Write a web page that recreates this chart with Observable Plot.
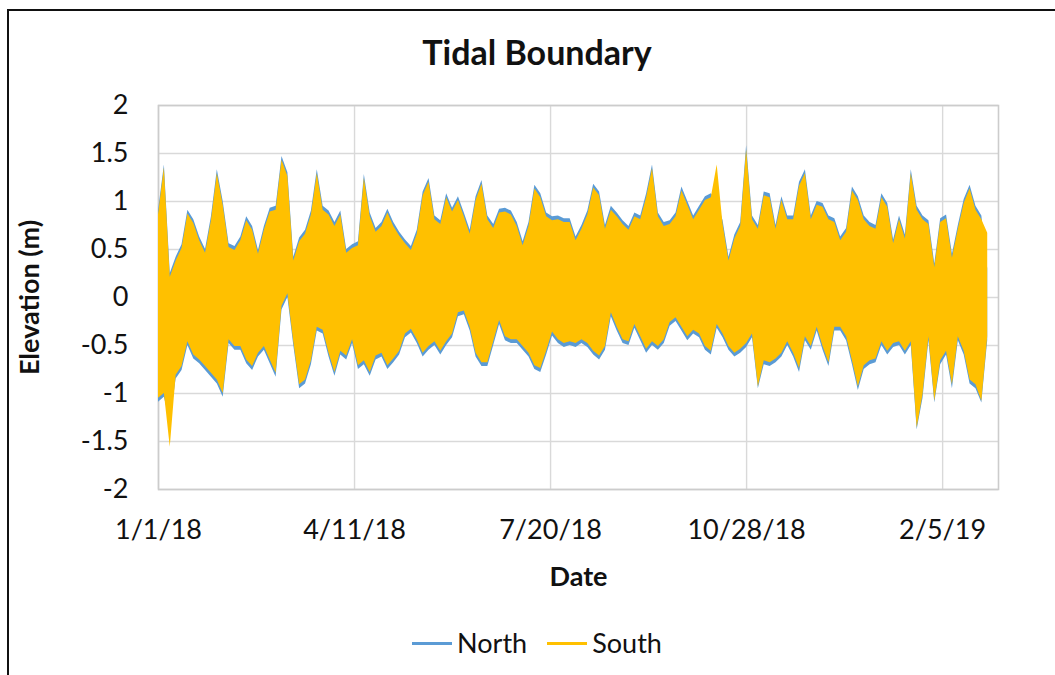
<!DOCTYPE html>
<html>
<head>
<meta charset="utf-8">
<script src="https://cdn.jsdelivr.net/npm/d3@7"></script>
<script src="https://cdn.jsdelivr.net/npm/@observablehq/plot@0.6"></script>
<style>
  body { margin: 0; background: #fff; font-family: Lato, "Open Sans", sans-serif; color: #111; }
  #wrap { position: relative; width: 1055px; height: 675px; overflow: hidden; background: #fff; }
  #frame { position: absolute; left: 7px; top: 9px; width: 1200px; height: 800px;
           border-left: 2.5px solid #111; border-top: 2.5px solid #111; pointer-events: none; }
  #title { position: absolute; top: 31px; left: 0; width: 1074px; text-align: center;
           font-weight: 700; font-size: 34px; line-height: 42px; color: #111; }
  #chart { position: absolute; left: 0; top: 0; }
  #legend { position: absolute; top: 626px; left: 0; width: 1074px; display: flex;
            justify-content: center; align-items: center; font-size: 27px; line-height: 34px; color: #111; }
  .item { display: flex; align-items: center; margin: 0 10px; }
  .swatch { width: 40px; height: 3px; margin-right: 5px; }
</style>
</head>
<body>
<div id="wrap">
  <div id="title">Tidal Boundary</div>
  <div id="chart"></div>
  <div id="legend"></div>
  <div id="frame"></div>
</div>
<script>
// ---- data (envelope of each tidal series, sampled every 3 days from 1/1/18) ----
const startDate = "2018-01-01";
const sampleStepDays = 3;
const seriesNames = ["North", "South"];
const seriesColors = ["#5B9BD5", "#FFC000"];

const northHigh = [
  0.9, 1.38, 0.25, 0.42, 0.55, 0.91, 0.81, 0.63, 0.5, 0.84, 1.33, 1.0, 0.56, 0.53, 0.63, 0.84, 0.74, 0.49, 0.74, 0.93, 0.95, 1.47, 1.30, 0.42,
  0.62, 0.7, 0.9, 1.33, 0.95, 0.9, 0.78, 0.9, 0.5, 0.55, 0.58, 1.28, 0.88, 0.72, 0.78, 0.92, 0.78, 0.68, 0.6, 0.53, 0.7, 1.1, 1.24, 0.85,
  0.8, 1.08, 0.93, 1.05, 0.88, 0.7, 1.05, 1.22, 0.85, 0.76, 0.92, 0.93, 0.9, 0.78, 0.58, 0.78, 1.17, 1.08, 0.88, 0.84, 0.85, 0.82, 0.82,
  0.63, 0.75, 0.9, 1.18, 1.1, 0.75, 0.95, 0.88, 0.8, 0.74, 0.88, 0.85, 1.08, 1.38, 0.88, 0.78, 0.8, 0.88, 1.15, 1.0, 0.85, 0.95, 1.05, 1.08,
  1.0, 0.8, 0.42, 0.65, 0.78, 1.58, 0.85, 0.75, 1.1, 1.08, 0.75, 1.05, 0.85, 0.85, 1.2, 1.33, 0.85, 1.0, 0.98, 0.85, 0.82, 0.63, 0.72, 1.15,
  1.05, 0.85, 0.78, 0.75, 1.08, 0.98, 0.6, 0.85, 0.65, 1.33, 0.95, 0.85, 0.8, 0.35, 0.82, 0.86, 0.45, 0.75, 1.02, 1.17, 0.95, 0.85, 0.3
];
const northLow = [
  -1.09, -1.04, -1.3, -0.85, -0.76, -0.5, -0.64, -0.69, -0.76, -0.83, -0.9, -1.04, -0.48, -0.55, -0.55, -0.69, -0.76, -0.62, -0.55, -0.69, -0.83, -0.13, 0.0, -0.5,
  -0.95, -0.9, -0.7, -0.35, -0.38, -0.62, -0.82, -0.6, -0.65, -0.48, -0.75, -0.7, -0.82, -0.65, -0.62, -0.75, -0.68, -0.6, -0.42, -0.37, -0.48, -0.62, -0.55, -0.5,
  -0.6, -0.5, -0.42, -0.2, -0.18, -0.35, -0.62, -0.72, -0.72, -0.5, -0.28, -0.45, -0.48, -0.48, -0.55, -0.62, -0.75, -0.78, -0.6, -0.4, -0.48, -0.52, -0.5,
  -0.52, -0.48, -0.52, -0.6, -0.65, -0.55, -0.2, -0.35, -0.48, -0.5, -0.32, -0.45, -0.58, -0.5, -0.55, -0.48, -0.3, -0.25, -0.35, -0.45, -0.38, -0.42, -0.55, -0.6,
  -0.32, -0.42, -0.55, -0.62, -0.58, -0.52, -0.42, -0.95, -0.7, -0.72, -0.68, -0.62, -0.5, -0.62, -0.78, -0.45, -0.55, -0.35, -0.55, -0.72, -0.35, -0.35, -0.45, -0.7,
  -0.97, -0.75, -0.7, -0.68, -0.5, -0.6, -0.52, -0.5, -0.6, -0.5, -1.38, -1.05, -0.45, -1.1, -0.7, -0.6, -0.95, -0.45, -0.6, -0.9, -0.95, -1.1, -0.45
];
const southHigh = [
  0.86, 1.35, 0.21, 0.38, 0.51, 0.87, 0.77, 0.59, 0.46, 0.8, 1.29, 0.96, 0.52, 0.49, 0.59, 0.8, 0.7, 0.45, 0.7, 0.89, 0.91, 1.43, 1.26, 0.38,
  0.58, 0.66, 0.86, 1.29, 0.91, 0.86, 0.74, 0.86, 0.46, 0.51, 0.54, 1.24, 0.84, 0.68, 0.74, 0.88, 0.74, 0.64, 0.56, 0.49, 0.66, 1.06, 1.2, 0.81,
  0.76, 1.04, 0.89, 1.01, 0.84, 0.66, 1.01, 1.18, 0.81, 0.72, 0.88, 0.89, 0.86, 0.74, 0.54, 0.74, 1.13, 1.04, 0.84, 0.8, 0.81, 0.78, 0.78,
  0.59, 0.71, 0.86, 1.14, 1.06, 0.71, 0.91, 0.84, 0.76, 0.7, 0.84, 0.81, 1.04, 1.34, 0.84, 0.74, 0.76, 0.84, 1.11, 0.96, 0.81, 0.91, 1.01, 1.04,
  1.38, 0.76, 0.38, 0.61, 0.74, 1.54, 0.81, 0.71, 1.06, 1.04, 0.71, 1.01, 0.81, 0.81, 1.16, 1.29, 0.81, 0.96, 0.94, 0.81, 0.78, 0.59, 0.68, 1.11,
  1.01, 0.81, 0.74, 0.71, 1.04, 0.94, 0.56, 0.81, 0.61, 1.29, 0.91, 0.81, 0.76, 0.31, 0.78, 0.82, 0.41, 0.71, 0.98, 1.13, 0.91, 0.81, 0.67
];
const southLow = [
  -1.05, -1.0, -1.56, -0.81, -0.72, -0.46, -0.6, -0.65, -0.72, -0.79, -0.86, -1.0, -0.44, -0.51, -0.51, -0.65, -0.72, -0.58, -0.51, -0.65, -0.79, -0.09, 0.04, -0.46,
  -0.91, -0.86, -0.66, -0.31, -0.34, -0.58, -0.78, -0.56, -0.61, -0.44, -0.71, -0.66, -0.78, -0.61, -0.58, -0.71, -0.64, -0.56, -0.38, -0.33, -0.44, -0.58, -0.51, -0.46,
  -0.56, -0.46, -0.38, -0.16, -0.14, -0.31, -0.58, -0.68, -0.68, -0.46, -0.24, -0.41, -0.44, -0.44, -0.51, -0.58, -0.71, -0.74, -0.56, -0.36, -0.44, -0.48, -0.46,
  -0.48, -0.44, -0.48, -0.56, -0.61, -0.51, -0.16, -0.31, -0.44, -0.46, -0.28, -0.41, -0.54, -0.46, -0.51, -0.44, -0.26, -0.21, -0.31, -0.41, -0.34, -0.38, -0.51, -0.56,
  -0.28, -0.38, -0.51, -0.58, -0.54, -0.48, -0.38, -0.93, -0.66, -0.68, -0.64, -0.58, -0.46, -0.58, -0.74, -0.41, -0.51, -0.31, -0.51, -0.68, -0.31, -0.31, -0.41, -0.66,
  -0.93, -0.71, -0.66, -0.64, -0.46, -0.56, -0.48, -0.46, -0.56, -0.46, -1.36, -1.01, -0.41, -1.08, -0.66, -0.56, -0.91, -0.41, -0.56, -0.86, -0.91, -1.08, -0.41
];

const xTickDates = ["2018-01-01", "2018-04-11", "2018-07-20", "2018-10-28", "2019-02-05"];
const xTickLabels = ["1/1/18", "4/11/18", "7/20/18", "10/28/18", "2/5/19"];
const yTicks = [-2, -1.5, -1, -0.5, 0, 0.5, 1, 1.5, 2];
const xDomain = ["2018-01-01", "2019-03-05T12:00"];

// ---- build ----
const DAY = 864e5;
const t0 = new Date(startDate + "T00:00Z").getTime();
const toDate = s => new Date(s.length > 10 ? s + "Z" : s + "T00:00Z");
const mk = (hi, lo) => hi.map((h, i) => ({ date: new Date(t0 + i * sampleStepDays * DAY), hi: h, lo: lo[i] }));
const north = mk(northHigh, northLow);
const south = mk(southHigh, southLow);
const tickDates = xTickDates.map(toDate);
const labelOf = new Map(tickDates.map((d, i) => [+d, xTickLabels[i]]));

const grid = "#d9d9d9";
const chart = Plot.plot({
  width: 1055,
  height: 610,
  marginTop: 105,
  marginLeft: 158,
  marginRight: 57,
  marginBottom: 121,
  style: { fontFamily: "Lato, 'Open Sans', sans-serif", fontSize: "27px", color: "#111", background: "transparent" },
  x: { type: "utc", domain: xDomain.map(toDate) },
  y: { domain: [-2, 2] },
  marks: [
    Plot.gridY(yTicks, { stroke: grid, strokeOpacity: 1, strokeWidth: 1.4 }),
    Plot.gridX(tickDates, { stroke: grid, strokeOpacity: 1, strokeWidth: 1.4 }),
    Plot.frame({ stroke: "#cccccc", strokeWidth: 1.6 }),
    Plot.areaY(north, { x: "date", y1: "lo", y2: "hi", fill: seriesColors[0] }),
    Plot.areaY(south, { x: "date", y1: "lo", y2: "hi", fill: seriesColors[1] }),
    Plot.axisY(yTicks, { tickSize: 0, tickPadding: 30, tickFormat: d => String(d), label: null, fill: "#111" }),
    Plot.axisX(tickDates, { tickSize: 0, tickPadding: 41, lineAnchor: "middle", tickFormat: d => labelOf.get(+d), label: null, fill: "#111" }),
    Plot.text(["Date"], { frameAnchor: "bottom", dy: 88, lineAnchor: "middle", fontWeight: "bold", fontSize: 27, fill: "#111" }),
    Plot.text(["Elevation (m)"], { frameAnchor: "left", dx: -128, rotate: -90, lineAnchor: "middle", textAnchor: "middle", fontWeight: "bold", fontSize: 27, fill: "#111" })
  ]
});
document.getElementById("chart").appendChild(chart);

const legend = document.getElementById("legend");
seriesNames.forEach((name, i) => {
  const item = document.createElement("div");
  item.className = "item";
  const sw = document.createElement("span");
  sw.className = "swatch";
  sw.style.background = seriesColors[i];
  const lab = document.createElement("span");
  lab.textContent = name;
  item.appendChild(sw); item.appendChild(lab);
  legend.appendChild(item);
});
</script>
</body>
</html>
